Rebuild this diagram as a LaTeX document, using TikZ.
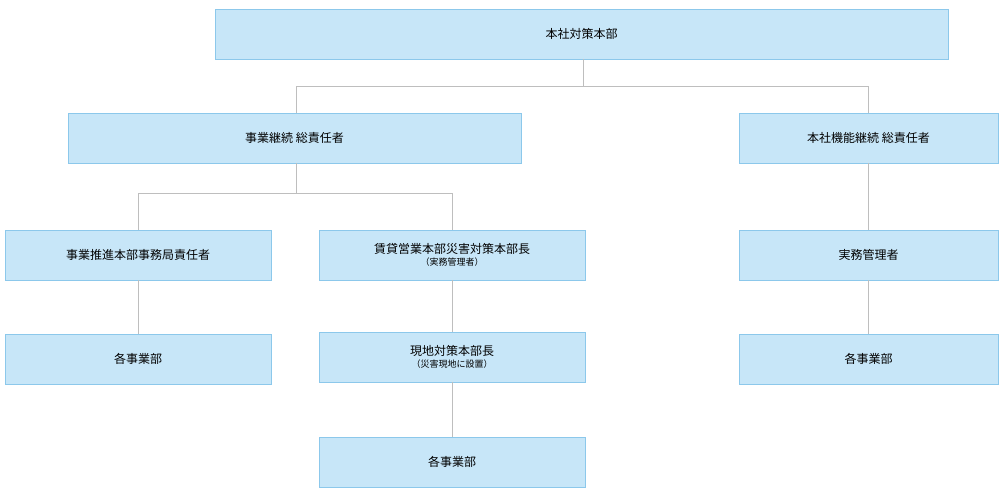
\documentclass[tikz,border=0pt]{standalone}
\usepackage{fontspec}
\setmainfont{Noto Sans CJK JP}
\usetikzlibrary{positioning}
\definecolor{boxfill}{RGB}{199,230,248}
\definecolor{boxline}{RGB}{140,200,235}
\definecolor{wire}{RGB}{190,190,190}
\begin{document}
\begin{tikzpicture}[x=1pt,y=-1pt,
    every node/.style={font=\fontsize{12}{14}\selectfont},
    unit/.style={rectangle,draw=boxline,fill=boxfill,minimum height=50pt,align=center,inner sep=0pt}]
  \tikzstyle{wide}=[unit,minimum width=733pt]
  \tikzstyle{mid}=[unit,minimum width=453pt]
  \tikzstyle{side}=[unit,minimum width=259pt]
  \tikzstyle{small}=[unit,minimum width=266pt]
  \tikzstyle{sub}=[font=\fontsize{9}{11}\selectfont]
  \useasboundingbox (0,0) rectangle (1000,500);

  \node[wide]  (hq)      at (581.5,34)  {本社対策本部};
  \node[mid]   (bizhead) at (294.5,138) {事業継続 総責任者};
  \node[side]  (hqfunc)  at (868.5,138) {本社機能継続 総責任者};
  \node[small] (office)  at (138,255)   {事業推進本部事務局責任者};
  \node[small] (rental)  at (452,255)   {賃貸営業本部災害対策本部長\\[-2pt]{\fontsize{9}{11}\selectfont （実務管理者）}};
  \node[side]  (manager) at (868.5,255) {実務管理者};
  \node[small] (depA)    at (138,359)   {各事業部};
  \node[small] (site)    at (452,357)   {現地対策本部長\\[-2pt]{\fontsize{9}{11}\selectfont （災害現地に設置）}};
  \node[side]  (depC)    at (868.5,359) {各事業部};
  \node[small] (depB)    at (452,462)   {各事業部};

  \coordinate (top) at (583,86);
  \coordinate (split) at (296,193);
  \draw[wire] (hq.south -| top) -- (top) -| (bizhead.north -| split);
  \draw[wire] (top) -| (hqfunc);
  \draw[wire] (bizhead.south -| split) -- (split) -| (office);
  \draw[wire] (split) -| (rental);
  \draw[wire] (office) -- (depA);
  \draw[wire] (rental) -- (site);
  \draw[wire] (site) -- (depB);
  \draw[wire] (hqfunc) -- (manager);
  \draw[wire] (manager) -- (depC);
\end{tikzpicture}
\end{document}
